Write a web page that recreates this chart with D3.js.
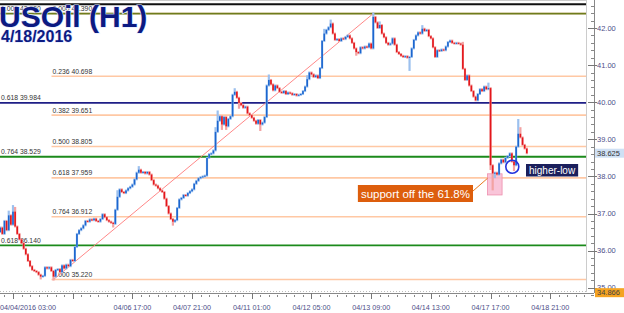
<!DOCTYPE html>
<html>
<head>
<meta charset="utf-8">
<script src="https://cdn.jsdelivr.net/npm/d3@7"></script>
<style>
  html, body { margin: 0; padding: 0; background: #fff; }
  svg { display: block; font-family: "Liberation Sans", Arial, sans-serif; }
</style>
</head>
<body>
<div id="chart"></div>
<script>
// hourly closes, USOil 04/04 - 04/18 2016 (open of each bar = previous close)
const firstOpen = 36.5;
const closes = [
  36.62, 36.45, 36.8, 36.55, 36.95, 36.7, 37.05, 36.65, 36.45, 36.3,
  36.2, 36.05, 35.9, 35.72, 35.58, 35.48, 35.45, 35.42, 35.35, 35.3,
  35.32, 35.55, 35.52, 35.55, 35.45, 35.3, 35.48, 35.5, 35.42, 35.6,
  35.52, 35.62, 35.58, 35.75, 35.72, 36.1, 36.45, 36.55, 36.6, 36.68,
  36.8, 36.78, 36.84, 36.82, 36.86, 36.8, 36.78, 36.85, 36.98, 36.9,
  36.82, 36.78, 36.75, 36.72, 37.1, 37.45, 37.65, 37.58, 37.55, 37.62,
  37.68, 37.72, 37.78, 37.92, 38.1, 38.18, 38.1, 38.12, 38.08, 38.12,
  38.05, 37.9, 37.78, 37.75, 37.68, 37.62, 37.58, 37.4, 37.2, 37.0,
  36.85, 36.78, 36.82, 37.15, 37.38, 37.42, 37.5, 37.48, 37.55, 37.6,
  37.65, 37.8, 37.88, 37.95, 37.98, 38.0, 38.02, 38.5, 38.6, 38.62,
  38.7, 39.2, 39.5, 39.62, 39.4, 39.6, 39.35, 39.55, 39.62, 40.2,
  40.28, 40.12, 39.98, 39.92, 39.85, 39.88, 39.7, 39.65, 39.58, 39.5,
  39.42, 39.52, 39.4, 39.45, 39.6, 40.45, 40.6, 40.48, 40.32, 40.45,
  40.38, 40.28, 40.25, 40.3, 40.22, 40.26, 40.24, 40.2, 40.22, 40.18,
  40.2, 40.22, 40.3, 40.42, 40.62, 40.8, 40.75, 40.68, 40.72, 40.65,
  40.92, 41.65, 41.85, 41.95, 42.02, 42.12, 41.85, 41.68, 41.7, 41.65,
  41.72, 41.7, 41.76, 41.8, 41.72, 41.6, 41.45, 41.35, 41.32, 41.48,
  41.45, 41.5, 41.48, 41.58, 41.45, 42.3, 42.15, 42.0, 42.08, 41.85,
  41.75, 41.6, 41.55, 41.58, 41.72, 41.55, 41.35, 41.3, 41.25, 41.22,
  41.24, 41.2, 41.22, 41.45, 41.68, 41.8, 41.88, 41.85, 41.98, 41.92,
  41.95, 41.78, 41.72, 41.48, 41.22, 41.4, 41.38, 41.42, 41.4, 41.5,
  41.62, 41.66, 41.6, 41.58, 41.6, 41.58, 41.55, 40.9, 40.6, 40.72,
  40.45, 40.3, 40.15, 40.05, 40.22, 40.35, 40.3, 40.42, 40.35, 40.38,
  38.3, 38.08, 38.1, 38.05, 38.35, 38.45, 38.38, 38.5, 38.55, 38.62,
  38.4, 38.3, 38.8, 39.15, 39.05, 38.85, 38.75, 38.625
];
// wicks that stick out past the body: [bar, price]
const wickHighs = [[4, 37.05], [6, 37.2], [7, 37.15], [55, 37.6], [65, 38.25], [101, 39.3],
  [102, 39.75], [110, 40.35], [126, 40.72], [144, 40.7], [152, 41.95], [155, 42.2],
  [175, 42.39], [178, 42.15], [198, 42.05], [217, 41.6], [229, 40.5], [243, 39.52], [244, 39.3]];
const wickLows = [[19, 35.25], [25, 35.22], [53, 36.65], [81, 36.7], [104, 39.28], [106, 39.28],
  [112, 39.85], [122, 39.25], [167, 41.28], [192, 40.87], [230, 38.2], [231, 37.65],
  [232, 37.98], [241, 38.17]];

const fibRatios = ['0.000', '0.236', '0.382', '0.500', '0.618', '0.764', '1.000'];
const fibPrices = [42.390, 40.698, 39.651, 38.805, 37.959, 36.912, 35.220];
const swingLowBar = 25, swingHighBar = 175;

const levelPrices = [42.64, 42.390, 39.984, 38.529, 36.140];
const levelLabels = ['', '1.000 42.390', '0.618 39.984', '0.764 38.529', '0.618 36.140'];
const levelColors = ['#111111', '#6e7d1c', '#1e1e86', '#1b8a1b', '#1b8a1b'];

const yTicks = [35, 36, 37, 38, 39, 40, 41, 42];
const xTickBars = [0, 62, 90, 118, 146, 174, 202, 230, 258];
const xTickLabels = ['04/04/2016 03:00', '04/06 17:00', '04/07 21:00', '04/11 01:00',
  '04/12 05:00', '04/13 09:00', '04/14 13:00', '04/17 17:00', '04/18 21:00'];
const lastPrice = 38.625;
const bottomPrice = 34.866;

const W = 624, H = 313;
const plotRight = 586, axisX = 594, axisY = 293;

const x = d3.scaleLinear().domain([0, 247]).range([0.2, 526.8]);
const y = d3.scaleLinear().domain([35, 42]).range([287.7, 28]);

const svg = d3.select('#chart').append('svg')
  .attr('width', W).attr('height', H);

svg.append('rect').attr('width', W).attr('height', H).attr('fill', '#fff');

// top border + bottom dotted border
svg.append('line').attr('x1', 0).attr('x2', plotRight).attr('y1', 0.5).attr('y2', 0.5)
  .attr('stroke', '#ccc');
svg.append('line').attr('x1', 0).attr('x2', plotRight).attr('y1', 291.5).attr('y2', 291.5)
  .attr('stroke', '#bbb').attr('stroke-dasharray', '1,2');
svg.append('line').attr('x1', plotRight + 0.5).attr('x2', plotRight + 0.5).attr('y1', 0).attr('y2', 292)
  .attr('stroke', '#ccc');

// retracement lines from the swing low
const fibX0 = x(swingLowBar) - 2;
svg.append('g').selectAll('line').data(fibPrices).enter().append('line')
  .attr('x1', fibX0).attr('x2', plotRight)
  .attr('y1', d => y(d)).attr('y2', d => y(d))
  .attr('stroke', '#ffc8a4').attr('stroke-width', 1.6);
svg.append('g').selectAll('text').data(fibPrices).enter().append('text')
  .attr('x', fibX0 + 1).attr('y', d => y(d) - 2.5)
  .attr('font-size', '6.8px').attr('fill', '#333')
  .text((d, i) => fibRatios[i] + ' ' + d.toFixed(3));

// full width levels
svg.append('g').selectAll('line').data(levelPrices).enter().append('line')
  .attr('x1', 0).attr('x2', plotRight)
  .attr('y1', d => y(d)).attr('y2', d => y(d))
  .attr('stroke', (d, i) => levelColors[i]).attr('stroke-width', 1.8);
svg.append('g').selectAll('text').data(levelPrices).enter().append('text')
  .attr('x', 1).attr('y', d => y(d) - 2.5)
  .attr('font-size', '6.8px').attr('fill', '#333')
  .text((d, i) => levelLabels[i]);

// swing line low -> high
svg.append('line')
  .attr('x1', x(swingLowBar)).attr('y1', y(fibPrices[6]))
  .attr('x2', x(swingHighBar)).attr('y2', y(fibPrices[0]))
  .attr('stroke', '#ff7b7b').attr('stroke-width', 0.9);

// candles
const candles = closes.map((c, i) => {
  const o = i === 0 ? firstOpen : closes[i - 1];
  let hi = Math.max(o, c), lo = Math.min(o, c);
  wickHighs.forEach(w => { if (w[0] === i) hi = w[1]; });
  wickLows.forEach(w => { if (w[0] === i) lo = w[1]; });
  return { i, o, c, hi, lo, up: c >= o };
});

const cg = svg.append('g');
cg.selectAll('.wick').data(candles).enter().append('line')
  .attr('class', 'wick')
  .attr('x1', d => x(d.i)).attr('x2', d => x(d.i))
  .attr('y1', d => y(d.hi) - 1).attr('y2', d => y(d.lo) + 1)
  .attr('stroke', d => d.up ? '#9cc0ee' : '#f3a3a3').attr('stroke-width', 2.2);
cg.selectAll('.body').data(candles).enter().append('rect')
  .attr('class', 'body')
  .attr('x', d => x(d.i) - 0.8).attr('width', 1.6)
  .attr('y', d => y(Math.max(d.o, d.c)))
  .attr('height', d => Math.max(1, Math.abs(y(d.o) - y(d.c))))
  .attr('fill', d => d.up ? '#1c66cf' : '#e3161b');

// annotation: pink box round the spike low + callout
svg.append('rect')
  .attr('x', x(228.6)).attr('width', x(235.4) - x(228.6))
  .attr('y', y(38.07)).attr('height', y(37.5) - y(38.07))
  .attr('fill', '#f7b6cf').attr('fill-opacity', 0.8)
  .attr('stroke', '#ee8fae').attr('stroke-width', 0.8);
cg.raise();

const sup = svg.append('g');
const supText = sup.append('text')
  .attr('font-size', '11.5px').attr('fill', '#fff')
  .text('support off the 61.8%');
const supW = supText.node().getComputedTextLength();
const supRight = 473, supTop = 185;
sup.insert('rect', 'text')
  .attr('x', supRight - supW - 6).attr('y', supTop)
  .attr('width', supW + 6).attr('height', 17)
  .attr('fill', '#dd5e0d');
supText.attr('x', supRight - supW - 3).attr('y', supTop + 13);
svg.append('line')
  .attr('x1', supRight).attr('y1', supTop + 6)
  .attr('x2', x(228.6)).attr('y2', y(37.95))
  .attr('stroke', '#e8781e').attr('stroke-width', 1);

// higher-low circle + label
svg.append('circle')
  .attr('cx', x(240.2)).attr('cy', y(38.26)).attr('r', 6.5)
  .attr('fill', 'none').attr('stroke', '#2233dd').attr('stroke-width', 1.6);
const hl = svg.append('g');
const hlText = hl.append('text')
  .attr('font-size', '10px').attr('fill', '#fff').text('higher-low');
const hlW = hlText.node().getComputedTextLength();
hl.insert('rect', 'text')
  .attr('x', 526).attr('y', 164).attr('width', hlW + 6).attr('height', 12.5)
  .attr('fill', '#1b1f5c');
hlText.attr('x', 529).attr('y', 173.5);

// right price axis
const ra = svg.append('g');
ra.append('line').attr('x1', axisX + 0.5).attr('x2', axisX + 0.5).attr('y1', 0).attr('y2', axisY)
  .attr('stroke', '#888');
const minorY = d3.range(34.8, 42.81, 0.2);
ra.selectAll('.mt').data(minorY).enter().append('line')
  .attr('x1', axisX - 3).attr('x2', axisX)
  .attr('y1', d => Math.round(y(d)) + 0.5).attr('y2', d => Math.round(y(d)) + 0.5)
  .attr('stroke', '#888');
ra.selectAll('.MT').data(yTicks).enter().append('line')
  .attr('x1', axisX - 6).attr('x2', axisX + 3)
  .attr('y1', d => Math.round(y(d)) + 0.5).attr('y2', d => Math.round(y(d)) + 0.5)
  .attr('stroke', '#777');
ra.selectAll('text').data(yTicks).enter().append('text')
  .attr('x', axisX + 3).attr('y', d => y(d) + 2.5)
  .attr('font-size', '7.5px').attr('fill', '#4d4d88')
  .text(d => d.toFixed(2));

// price flags
svg.append('rect').attr('x', axisX + 1).attr('y', y(lastPrice) - 4.5)
  .attr('width', W - axisX - 1).attr('height', 9).attr('fill', '#cfe0f4');
svg.append('text').attr('x', axisX + 3).attr('y', y(lastPrice) + 2.5)
  .attr('font-size', '7.5px').attr('fill', '#333').text(lastPrice.toFixed(3));
svg.append('rect').attr('x', axisX + 1).attr('y', y(bottomPrice) - 4.5)
  .attr('width', W - axisX - 1).attr('height', 9).attr('fill', '#f4a321');
svg.append('text').attr('x', axisX + 3).attr('y', y(bottomPrice) + 2.5)
  .attr('font-size', '7.5px').attr('fill', '#444').text(bottomPrice.toFixed(3));

// bottom time axis
const ba = svg.append('g');
ba.append('line').attr('x1', 0).attr('x2', axisX).attr('y1', axisY + 0.5).attr('y2', axisY + 0.5)
  .attr('stroke', '#888');
const minorBars = d3.range(2, 276, 4);
ba.selectAll('.mt').data(minorBars).enter().append('line')
  .attr('x1', d => Math.round(x(d)) + 0.5).attr('x2', d => Math.round(x(d)) + 0.5)
  .attr('y1', axisY + 2).attr('y2', axisY + 4)
  .attr('stroke', '#888');
const majorBars = d3.range(6, 276, 28);
ba.selectAll('.MT').data(majorBars).enter().append('line')
  .attr('x1', d => Math.round(x(d)) + 0.5).attr('x2', d => Math.round(x(d)) + 0.5)
  .attr('y1', axisY).attr('y2', axisY + 6)
  .attr('stroke', '#777');
ba.selectAll('text').data(xTickBars).enter().append('text')
  .attr('x', (d, i) => i === 0 ? 0 : x(d))
  .attr('y', 310)
  .attr('text-anchor', (d, i) => i === 0 ? 'start' : 'middle')
  .attr('font-size', '7.2px').attr('fill', '#4d4d88')
  .text((d, i) => xTickLabels[i]);

// title
const title = svg.append('g')
  .attr('font-family', '"Liberation Sans", Arial, sans-serif')
  .attr('font-weight', 'bold').attr('fill', '#0c1a82')
  .attr('stroke', '#dfe6ff').attr('stroke-width', 1.2).attr('paint-order', 'stroke');
title.append('text').attr('x', -1).attr('y', 27).attr('font-size', '30px').text('USOil (H1)');
title.append('text').attr('x', 1).attr('y', 42).attr('font-size', '16px').text('4/18/2016');
</script>
</body>
</html>
